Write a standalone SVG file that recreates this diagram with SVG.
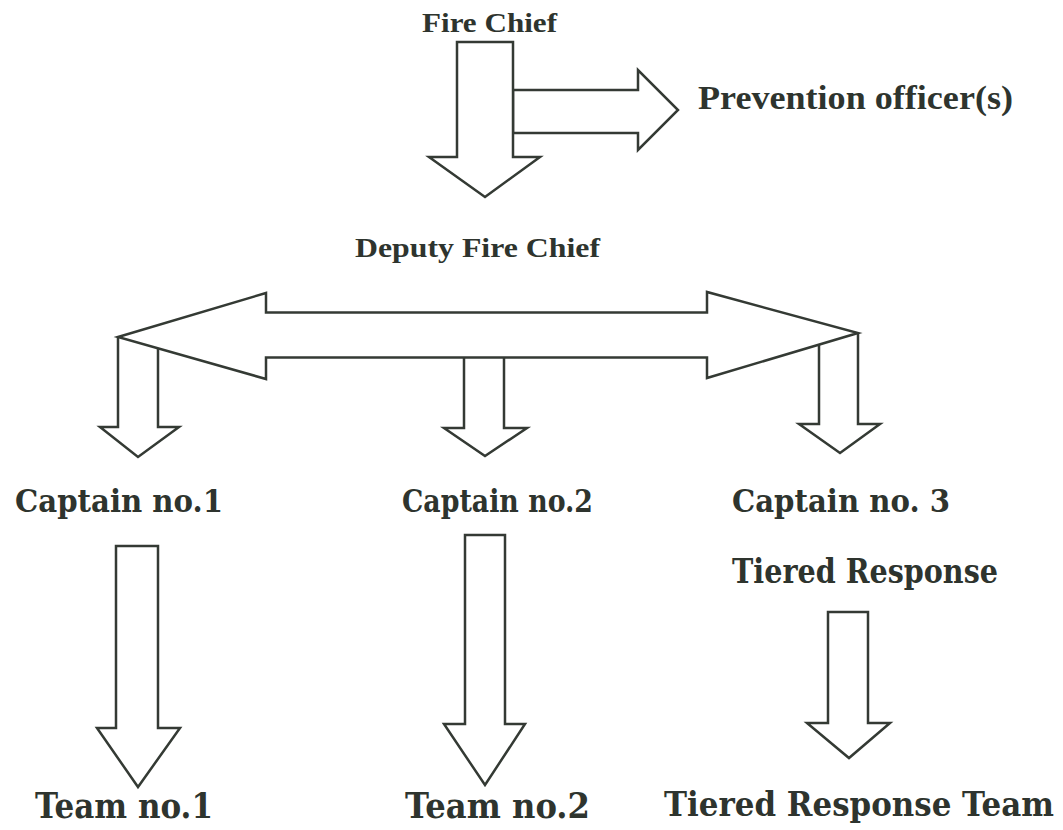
<svg xmlns="http://www.w3.org/2000/svg" width="1063" height="830" viewBox="0 0 1063 830">
<style>
.a{fill:#fff;stroke:#343a34;stroke-width:2.5;stroke-linejoin:miter}
.l{fill:none;stroke:#343a34;stroke-width:2.5;stroke-linejoin:miter}
.t{font-family:"Liberation Serif","Times New Roman",serif;font-weight:bold;fill:#2e342e}
.c{font-family:"DejaVu Serif","Liberation Serif",serif;font-weight:bold;fill:#2e342e}
</style>
<rect width="1063" height="830" fill="#fff"/>
<g id="connectors">
<polygon class="a" points="513,90 638,90 638,70 678,110 638,150 638,133 513,133"/>
<polygon class="a" points="457,42 513,42 513,157 540,157 485,197 429,157 457,157"/>
<polygon class="a" points="118,337 266,293 266,312.5 707,312.5 707,292 858,333 707,378 707,357.5 266,357.5 266,379"/>
<polyline class="l" points="118,337 118,427 100,427 138,457 179,427 158,427 158,348"/>
<polyline class="l" points="464,358 464,428 444,428 485,456 527,428 504,428 504,358"/>
<polyline class="l" points="858,333 858,424 880,424 840,453 799,424 819,424 819,345"/>
<polygon class="a" points="116,546 158,546 158,728 180,728 138,787 97,728 116,728"/>
<polygon class="a" points="465,535 505,535 505,724 525,724 485,785 444,724 465,724"/>
<polygon class="a" points="828,612 868,612 868,723 890,723 849,758 807,723 828,723"/>
</g>
<g id="fire-chief"><text class="t" x="422" y="32" font-size="27" textLength="135" lengthAdjust="spacingAndGlyphs">Fire Chief</text></g>
<g id="prevention"><text class="t" x="698" y="109" font-size="34" textLength="315" lengthAdjust="spacingAndGlyphs">Prevention officer(s)</text></g>
<g id="deputy"><text class="t" x="355" y="257" font-size="28" textLength="245" lengthAdjust="spacingAndGlyphs">Deputy Fire Chief</text></g>
<g id="captain1"><text class="c" x="15" y="512" font-size="32" textLength="208" lengthAdjust="spacingAndGlyphs">Captain no.1</text></g>
<g id="captain2"><text class="c" x="402" y="512" font-size="32" textLength="191" lengthAdjust="spacingAndGlyphs">Captain no.2</text></g>
<g id="captain3"><text class="c" x="732" y="512" font-size="32" textLength="218" lengthAdjust="spacingAndGlyphs">Captain no. 3</text></g>
<g id="tiered"><text class="c" x="732" y="583" font-size="33" textLength="266" lengthAdjust="spacingAndGlyphs">Tiered Response</text></g>
<g id="team1"><text class="c" x="35" y="818" font-size="36" textLength="178" lengthAdjust="spacingAndGlyphs">Team no.1</text></g>
<g id="team2"><text class="c" x="405" y="818" font-size="36" textLength="185" lengthAdjust="spacingAndGlyphs">Team no.2</text></g>
<g id="tiered-team"><text class="c" x="664" y="816" font-size="34" textLength="390" lengthAdjust="spacingAndGlyphs">Tiered Response Team</text></g>
</svg>
